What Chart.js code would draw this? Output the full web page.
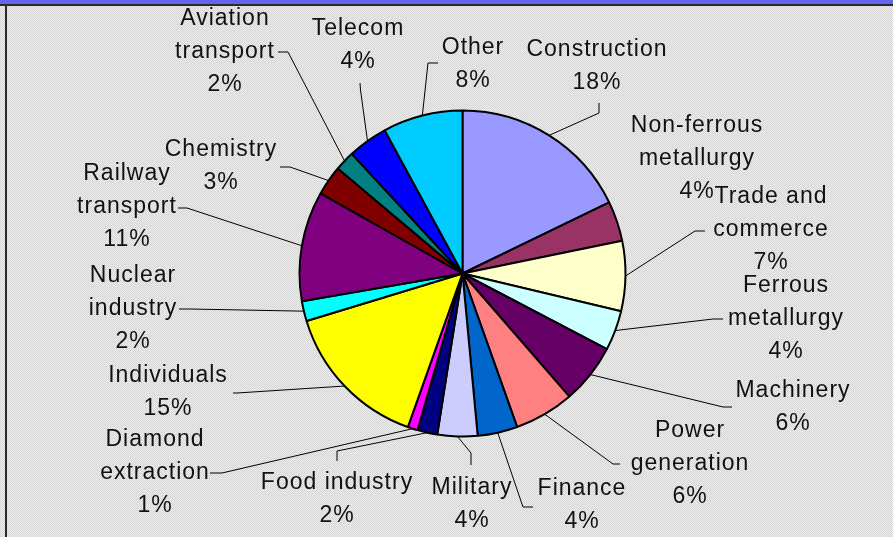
<!DOCTYPE html>
<html>
<head>
<meta charset="utf-8">
<script src="https://cdn.jsdelivr.net/npm/chart.js@4/dist/chart.umd.min.js"></script>
<style>
  html, body { margin: 0; padding: 0; background: #e2e2e2; }
  canvas { display: block; }
</style>
</head>
<body>
<canvas id="pie" width="893" height="537"></canvas>
<script>
// Sectors, clockwise from 12 o'clock ("\n" marks a wrapped label line)
const categories = [
  'Construction', 'Non-ferrous\nmetallurgy', 'Trade and\ncommerce', 'Ferrous\nmetallurgy',
  'Machinery', 'Power\ngeneration', 'Finance', 'Military', 'Food industry',
  'Diamond\nextraction', 'Individuals', 'Nuclear\nindustry', 'Railway\ntransport',
  'Chemistry', 'Aviation\ntransport', 'Telecom', 'Other'
];

// Share of each sector, in percent
const shares = [18, 4, 7, 4, 6, 6, 4, 4, 2, 1, 15, 2, 11, 3, 2, 4, 8];

// Fill colour of each sector
const sliceColors = [
  '#9999FF', '#993366', '#FFFFCC', '#CCFFFF', '#660066', '#FF8080', '#0066CC',
  '#CCCCFF', '#000080', '#FF00FF', '#FFFF00', '#00FFFF', '#800080', '#800000',
  '#008080', '#0000FF', '#00CCFF'
];

// Label placement, as offsets from the pie centre:
// text = [x of text centre, baseline of first line], bend / end = leader line points
const labelLayout = [
  { text: [134.5, -217.5], bend: [136.5, -160.5], end: [136.5, -170.5] },
  { text: [234.5, -141.2] },
  { text: [308.5, -70.8],  bend: [232.5, -42.5],  end: [242.5, -42.5] },
  { text: [323.5, 18.2],   bend: [250.5, 45.5],   end: [260.5, 45.5] },
  { text: [330.5, 123.2],  bend: [260.5, 133.5],  end: [269.5, 133.5] },
  { text: [227.5, 163.2],  bend: [150.5, 190.5],  end: [157.5, 190.5] },
  { text: [119.5, 221.5],  bend: [60.5, 233.5],   end: [70.5, 233.5] },
  { text: [9.5, 220.5],    bend: [8.5, 179.5],    end: [8.5, 191.5] },
  { text: [-125.5, 215.8], bend: [-125.5, 177.5], end: [-125.5, 187.5] },
  { text: [-307.5, 172.5], bend: [-240.5, 199.5], end: [-252.5, 199.5] },
  { text: [-294.5, 108.2], bend: [-225.5, 119.5], end: [-229.5, 119.5] },
  { text: [-329.5, 8.2],   bend: [-272.5, 35.5],  end: [-283.5, 35.5] },
  { text: [-335.5, -93.5], bend: [-275.5, -65.5], end: [-284.5, -65.5] },
  { text: [-241.5, -117.5], bend: [-172.5, -106.5], end: [-182.5, -106.5] },
  { text: [-237.5, -248.5], bend: [-174.5, -221.5], end: [-184.5, -221.5] },
  { text: [-104.5, -238.5], bend: [-102, -183.5],  end: [-102.5, -190.5] },
  { text: [10.5, -219.5],  bend: [-34.5, -210.5], end: [-24.5, -210.5] }
];

const LINE_STEP = 33;

// Fine grey dot texture behind the whole chart
function makeTexture(ctx) {
  const tile = document.createElement('canvas');
  tile.width = 2; tile.height = 2;
  const t = tile.getContext('2d');
  t.fillStyle = '#ececec'; t.fillRect(0, 0, 2, 2);
  t.fillStyle = '#d6d6d6'; t.fillRect(0, 0, 1, 1); t.fillRect(1, 1, 1, 1);
  return ctx.createPattern(tile, 'repeat');
}

const backdrop = {
  id: 'backdrop',
  beforeDraw(chart) {
    const ctx = chart.ctx, w = chart.width, h = chart.height;
    ctx.save();
    ctx.fillStyle = makeTexture(ctx);
    ctx.fillRect(0, 0, w, h);
    // frame: blue band along the top, dark rule under it and on the left
    ctx.fillStyle = '#6464f0';
    ctx.fillRect(0, 0, w, 4);
    ctx.fillStyle = '#2a2a2a';
    ctx.fillRect(0, 4, w, 2);
    ctx.fillRect(5, 4, 2, h - 4);
    ctx.restore();
  }
};

const outsideLabels = {
  id: 'outsideLabels',
  afterDatasetsDraw(chart) {
    const ctx = chart.ctx;
    const meta = chart.getDatasetMeta(0);
    const values = chart.data.datasets[0].data;
    const total = values.reduce((a, b) => a + b, 0);
    ctx.save();
    meta.data.forEach((arc, i) => {
      const p = arc.getProps(['x', 'y', 'startAngle', 'endAngle', 'outerRadius'], true);
      const lay = labelLayout[i];
      const mid = (p.startAngle + p.endAngle) / 2;
      if (lay.bend) {
        ctx.beginPath();
        ctx.moveTo(p.x + Math.cos(mid) * p.outerRadius, p.y + Math.sin(mid) * p.outerRadius);
        ctx.lineTo(p.x + lay.bend[0], p.y + lay.bend[1]);
        ctx.lineTo(p.x + lay.end[0], p.y + lay.end[1]);
        ctx.strokeStyle = '#000';
        ctx.lineWidth = 1;
        ctx.stroke();
      }
      const pct = Math.round(values[i] / total * 100) + '%';
      const lines = chart.data.labels[i].split('\n').concat([pct]);
      ctx.font = '23px "Liberation Sans", Arial, sans-serif';
      ctx.letterSpacing = '1px';
      ctx.fillStyle = '#111';
      ctx.textAlign = 'center';
      ctx.textBaseline = 'alphabetic';
      lines.forEach((ln, k) => {
        ctx.fillText(ln, p.x + lay.text[0], p.y + lay.text[1] + k * LINE_STEP);
      });
    });
    ctx.restore();
  }
};

new Chart(document.getElementById('pie'), {
  type: 'pie',
  data: {
    labels: categories,
    datasets: [{
      data: shares,
      backgroundColor: sliceColors,
      borderColor: '#000',
      borderWidth: 2
    }]
  },
  options: {
    responsive: false,
    animation: false,
    devicePixelRatio: 1,
    radius: 163,
    layout: { padding: { left: 32, right: 0, top: 10, bottom: 0 } },
    plugins: {
      legend: { display: false },
      tooltip: { enabled: false }
    }
  },
  plugins: [backdrop, outsideLabels]
});
</script>
</body>
</html>
